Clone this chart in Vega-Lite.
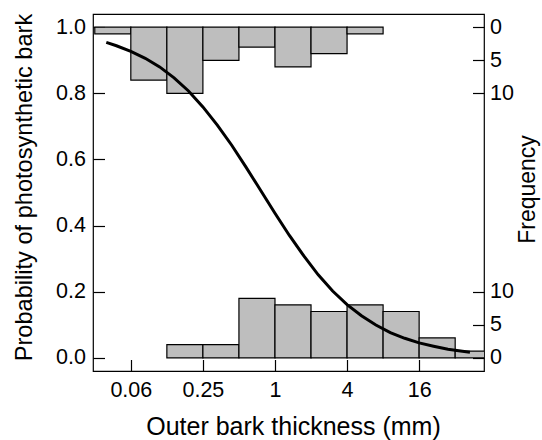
{
  "$schema": "https://vega.github.io/schema/vega-lite/v6.json",
  "width": 391,
  "height": 357,
  "autosize": {"type": "none"},
  "padding": {"left": 93, "top": 14, "right": 58, "bottom": 69},
  "background": "white",
  "config": {
    "view": {"stroke": "black", "strokeWidth": 1.2},
    "axis": {
      "domain": false,
      "grid": false,
      "tickColor": "black",
      "tickSize": -11.5,
      "tickWidth": 1.2,
      "labelColor": "black",
      "titleColor": "black",
      "labelFont": "Liberation Sans",
      "titleFont": "Liberation Sans",
      "labelFontSize": 21.5,
      "titleFontSize": 24,
      "titleFontWeight": "normal"
    }
  },
  "datasets": {
    "top": [
      {"lo": 0.03125, "hi": 0.0625, "count": 1},
      {"lo": 0.0625, "hi": 0.125, "count": 8},
      {"lo": 0.125, "hi": 0.25, "count": 10},
      {"lo": 0.25, "hi": 0.5, "count": 5},
      {"lo": 0.5, "hi": 1, "count": 3},
      {"lo": 1, "hi": 2, "count": 6},
      {"lo": 2, "hi": 4, "count": 4},
      {"lo": 4, "hi": 8, "count": 1}
    ],
    "bottom": [
      {"lo": 0.125, "hi": 0.25, "count": 2},
      {"lo": 0.25, "hi": 0.5, "count": 2},
      {"lo": 0.5, "hi": 1, "count": 9},
      {"lo": 1, "hi": 2, "count": 8},
      {"lo": 2, "hi": 4, "count": 7},
      {"lo": 4, "hi": 8, "count": 8},
      {"lo": 8, "hi": 16, "count": 7},
      {"lo": 16, "hi": 32, "count": 3},
      {"lo": 32, "hi": 64, "count": 1}
    ],
    "curve": [
      {"x": 0.039, "p": 0.954},
      {"x": 0.0474, "p": 0.944},
      {"x": 0.0625, "p": 0.927},
      {"x": 0.0825, "p": 0.906},
      {"x": 0.1088, "p": 0.880},
      {"x": 0.1436, "p": 0.847},
      {"x": 0.1895, "p": 0.807},
      {"x": 0.25, "p": 0.759},
      {"x": 0.3299, "p": 0.704},
      {"x": 0.4353, "p": 0.643},
      {"x": 0.5743, "p": 0.576},
      {"x": 0.7579, "p": 0.507},
      {"x": 1.0, "p": 0.437},
      {"x": 1.3195, "p": 0.370},
      {"x": 1.7411, "p": 0.308},
      {"x": 2.2974, "p": 0.251},
      {"x": 3.0314, "p": 0.202},
      {"x": 4.0, "p": 0.161},
      {"x": 5.278, "p": 0.127},
      {"x": 6.964, "p": 0.099},
      {"x": 9.19, "p": 0.076},
      {"x": 12.13, "p": 0.059},
      {"x": 16.0, "p": 0.045},
      {"x": 21.11, "p": 0.035},
      {"x": 27.86, "p": 0.026},
      {"x": 36.76, "p": 0.020},
      {"x": 42.52, "p": 0.017}
    ]
  },
  "layer": [
    {
      "data": {"name": "top"},
      "mark": {"type": "rect", "fill": "#bebebe", "stroke": "black", "strokeWidth": 1.2, "clip": true},
      "encoding": {
        "x": {"field": "lo", "type": "quantitative",
          "scale": {"type": "log", "base": 2, "domain": [0.0302, 55.7], "nice": false},
          "axis": {"values": [0.0625, 0.25, 1, 4, 16], "format": ".2~f", "title": "Outer bark thickness (mm)", "labelPadding": 20, "titleFontSize": 25, "titleX": 200, "titleY": 63.5, "titleBaseline": "alphabetic", "titleAlign": "center"}},
        "x2": {"field": "hi"},
        "y": {"field": "count", "type": "quantitative",
          "scale": {"domain": [-2, 52], "reverse": true, "nice": false, "zero": false},
          "axis": {"orient": "right", "values": [0, 5, 10], "title": null, "labelPadding": 17}},
        "y2": {"datum": 0}
      }
    },
    {
      "data": {"name": "bottom"},
      "mark": {"type": "rect", "fill": "#bebebe", "stroke": "black", "strokeWidth": 1.2, "clip": true},
      "encoding": {
        "x": {"field": "lo", "type": "quantitative", "title": "Outer bark thickness (mm)"},
        "x2": {"field": "hi"},
        "y": {"field": "count", "type": "quantitative",
          "scale": {"domain": [-2, 52], "nice": false, "zero": false},
          "axis": {"orient": "right", "values": [0, 5, 10], "title": "Frequency", "labelPadding": 17, "titleFontSize": 23, "titleAngle": 270, "titleX": 50, "titleY": 175, "titleBaseline": "alphabetic", "titleAlign": "center"}},
        "y2": {"datum": 0}
      }
    },
    {
      "data": {"name": "curve"},
      "mark": {"type": "line", "color": "black", "strokeWidth": 3, "clip": true},
      "encoding": {
        "x": {"field": "x", "type": "quantitative", "title": "Outer bark thickness (mm)"},
        "y": {"field": "p", "type": "quantitative",
          "scale": {"domain": [-0.04, 1.04], "nice": false, "zero": false},
          "axis": {"orient": "left", "values": [0, 0.2, 0.4, 0.6, 0.8, 1.0], "format": ".1f", "title": "Probability of photosynthetic bark", "labelPadding": 19, "titleFontSize": 23.6, "titleAngle": 270, "titleX": -61.5, "titleY": 173, "titleBaseline": "alphabetic", "titleAlign": "center"}}
      }
    }
  ],
  "resolve": {"scale": {"y": "independent"}, "axis": {"y": "independent"}}
}
